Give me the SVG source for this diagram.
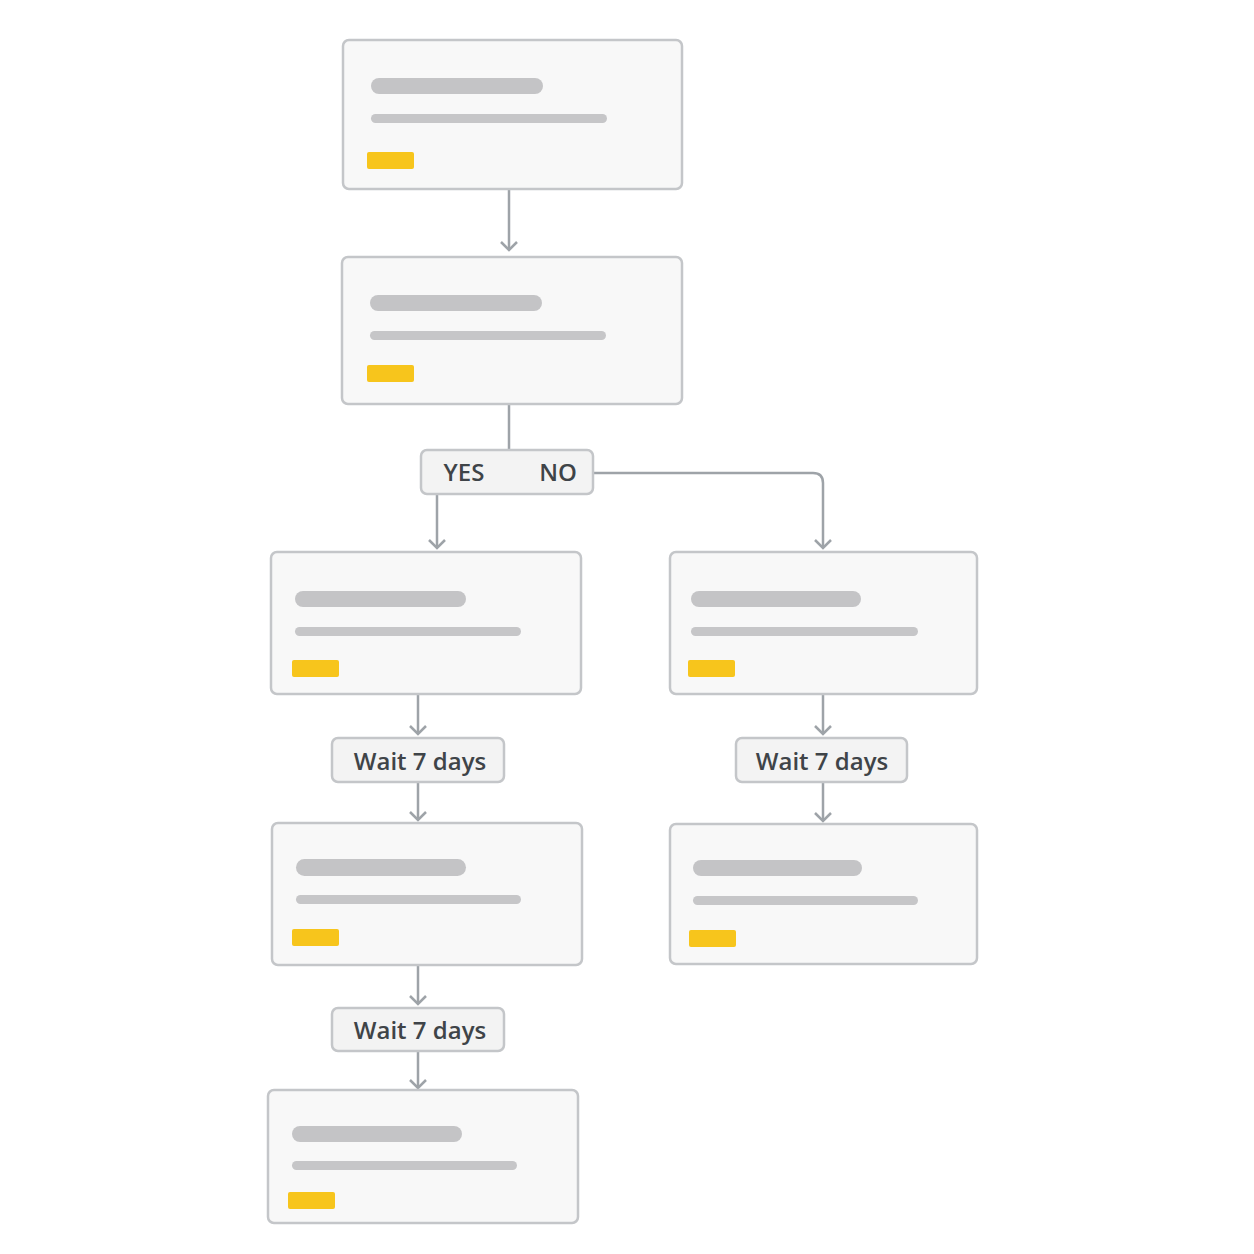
<svg xmlns="http://www.w3.org/2000/svg" width="1254" height="1254" viewBox="0 0 1254 1254">
<defs>
<style>
.card{fill:#f8f8f8;stroke:#c4c6c9;stroke-width:2.5}
.pill{fill:#f3f3f3;stroke:#c4c6c9;stroke-width:2.5}
.b1{fill:#c4c4c6}
.b2{fill:#c6c6c8}
.y{fill:#f7c51c}
.t{font-family:"Open Sans","Liberation Sans",sans-serif;font-size:24px;fill:#3f4448;font-weight:600;text-anchor:middle}
.c{fill:none;stroke:#9ea3a8;stroke-width:2.5}
</style>
<marker id="ar" viewBox="0 0 20 20" refX="17" refY="10" markerWidth="20" markerHeight="20" markerUnits="userSpaceOnUse" orient="auto">
<path d="M9 2 L17 10 L9 18" fill="none" stroke="#9ea3a8" stroke-width="2.5"/>
</marker>
</defs>
<rect width="1254" height="1254" fill="#fff"/>
<g id="connectors">
<path class="c" d="M509 190 V250" marker-end="url(#ar)"/>
<path class="c" d="M509 404 V450"/>
<path class="c" d="M437 494 V548" marker-end="url(#ar)"/>
<path class="c" d="M593 473 H813 Q823 473 823 483 V548" marker-end="url(#ar)"/>
<path class="c" d="M418 694 V734" marker-end="url(#ar)"/>
<path class="c" d="M418 782 V820" marker-end="url(#ar)"/>
<path class="c" d="M823 694 V734" marker-end="url(#ar)"/>
<path class="c" d="M823 782 V821" marker-end="url(#ar)"/>
<path class="c" d="M418 965 V1004" marker-end="url(#ar)"/>
<path class="c" d="M418 1051 V1088" marker-end="url(#ar)"/>
</g>
<g id="n1"><rect class="card" x="343" y="40" width="339" height="149" rx="6"/><rect class="b1" x="371" y="78" width="172" height="16" rx="8"/><rect class="b2" x="371" y="114" width="236" height="9" rx="4.5"/><rect class="y" x="367" y="152" width="47" height="17" rx="2"/></g>
<g id="n2"><rect class="card" x="342" y="257" width="340" height="147" rx="6"/><rect class="b1" x="370" y="295" width="172" height="16" rx="8"/><rect class="b2" x="370" y="331" width="236" height="9" rx="4.5"/><rect class="y" x="367" y="365" width="47" height="17" rx="2"/></g>
<g id="decision"><rect class="pill" x="421" y="450" width="172" height="44" rx="6"/><text class="t" x="464" y="481">YES</text><text class="t" x="558" y="481">NO</text></g>
<g id="n3"><rect class="card" x="271" y="552" width="310" height="142" rx="6"/><rect class="b1" x="295" y="591" width="171" height="16" rx="8"/><rect class="b2" x="295" y="627" width="226" height="9" rx="4.5"/><rect class="y" x="292" y="660" width="47" height="17" rx="2"/></g>
<g id="n4"><rect class="card" x="670" y="552" width="307" height="142" rx="6"/><rect class="b1" x="691" y="591" width="170" height="16" rx="8"/><rect class="b2" x="691" y="627" width="227" height="9" rx="4.5"/><rect class="y" x="688" y="660" width="47" height="17" rx="2"/></g>
<g id="wait1"><rect class="pill" x="332" y="738" width="172" height="44" rx="6"/><text class="t" x="420" y="770">Wait 7 days</text></g>
<g id="wait2"><rect class="pill" x="736" y="738" width="171" height="44" rx="6"/><text class="t" x="822" y="770">Wait 7 days</text></g>
<g id="n5"><rect class="card" x="272" y="823" width="310" height="142" rx="6"/><rect class="b1" x="296" y="859" width="170" height="17" rx="8.5"/><rect class="b2" x="296" y="895" width="225" height="9" rx="4.5"/><rect class="y" x="292" y="929" width="47" height="17" rx="2"/></g>
<g id="n6"><rect class="card" x="670" y="824" width="307" height="140" rx="6"/><rect class="b1" x="693" y="860" width="169" height="16" rx="8"/><rect class="b2" x="693" y="896" width="225" height="9" rx="4.5"/><rect class="y" x="689" y="930" width="47" height="17" rx="2"/></g>
<g id="wait3"><rect class="pill" x="332" y="1008" width="172" height="43" rx="6"/><text class="t" x="420" y="1039">Wait 7 days</text></g>
<g id="n7"><rect class="card" x="268" y="1090" width="310" height="133" rx="6"/><rect class="b1" x="292" y="1126" width="170" height="16" rx="8"/><rect class="b2" x="292" y="1161" width="225" height="9" rx="4.5"/><rect class="y" x="288" y="1192" width="47" height="17" rx="2"/></g>
</svg>
